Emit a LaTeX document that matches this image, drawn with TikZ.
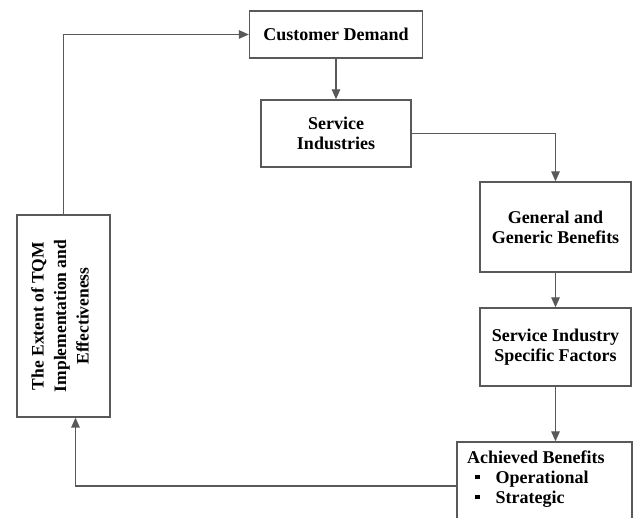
\documentclass[tikz,border=0pt]{standalone}
\usepackage{fontspec}
\setmainfont{Liberation Serif}
\usepackage{tikz}
\usetikzlibrary{arrows.meta,positioning}
\tikzset{
    %Define standard arrow tip
    >={Triangle[length=10pt,width=8.5pt]},
    %Define style for boxes
    stage/.style={
           rectangle,
           draw=black!65, line width=1.3pt,
           inner sep=0pt,
           font=\bfseries\fontsize{18}{20}\selectfont,
           align=center},
    %Define style for text inside boxes
    boxtext/.style={
           inner sep=0pt,
           font=\bfseries\fontsize{18}{20}\selectfont},
    % Define arrow style
    flow/.style={
           ->,
           draw=black!65,
           line width=1.3pt}
}
\newcommand{\sqbullet}{\rule[4pt]{4.5pt}{4.5pt}}

\begin{document}
\begin{tikzpicture}[x=1pt,y=1pt]
\useasboundingbox (0,0) rectangle (633,-518);
\clip (0,0) rectangle (633,-518);
 %nodes
\node[stage, minimum width=173, minimum height=47](demand) at (336,-34.5){Customer Demand};
\node[stage, minimum width=150, minimum height=67](service) at (336,-133.5){Service\\Industries};
\node[stage, minimum width=151, minimum height=90](general) at (555.5,-227){General and\\Generic Benefits};
\node[stage, minimum width=151, minimum height=78](specific) at (555.5,-347){Service Industry\\Specific Factors};
\node[stage, minimum width=175, minimum height=88](achieved) at (544.5,-486){};
\node[boxtext, anchor=north west, align=left](achievedtext) at (467,-450.5)
    {Achieved Benefits\\
     \hspace*{8pt}\sqbullet\hspace*{16pt}Operational\\
     \hspace*{8pt}\sqbullet\hspace*{16pt}Strategic};
\node[stage, minimum width=93, minimum height=202](tqm) at (63.5,-316){};
\node[boxtext, rotate=90, align=center, font=\bfseries\fontsize{17.5}{22.5}\selectfont](tqmtext) at (60,-316)
    {The Extent of TQM\\Implementation and\\Effectiveness};
 %connectors
\draw[flow] (demand.south) -- (service.north);
\draw[flow] (service.east) -| (general.north);
\draw[flow] (general.south) -- (specific.north);
\draw[flow] (specific.south) -- (specific.south |- achieved.north);
\draw[flow] (achieved.west) -| ([xshift=12pt]tqm.south);
\draw[flow] (tqm.north) |- (demand.west);
\end{tikzpicture}
\end{document}
